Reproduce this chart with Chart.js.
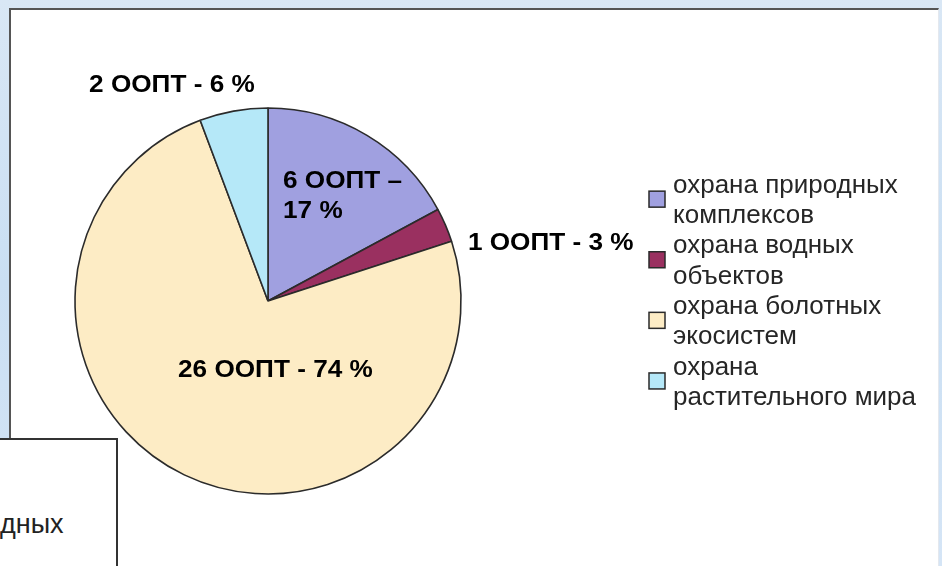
<!DOCTYPE html>
<html>
<head>
<meta charset="utf-8">
<script src="https://cdn.jsdelivr.net/npm/chart.js@4"></script>
<style>
  html, body { margin: 0; padding: 0; }
  body {
    width: 942px; height: 566px; overflow: hidden; position: relative;
    background: linear-gradient(180deg, #d9e7f5 0%, #cadff3 50%, #d5e5f6 100%);
    font-family: "Liberation Sans", Arial, sans-serif;
  }
  #panel {
    position: absolute; left: 9px; top: 8px; width: 930px; height: 600px;
    background: #ffffff; border-left: 2px solid #555; border-top: 2px solid #555;
    border-right: 1px solid #e4e8ee; box-sizing: border-box;
  }
  #box {
    position: absolute; left: -2px; top: 438px; width: 120px; height: 140px;
    background: #ffffff; border: 2px solid #333; box-sizing: border-box;
  }
  #boxText {
    position: absolute; left: 0px; top: 509px; font-size: 27px; color: #222;
    font-family: "Liberation Sans", Arial, sans-serif; line-height: 30px;
  }
  #chart { position: absolute; left: 0; top: 0; }
</style>
</head>
<body>
<div id="panel"></div>
<div id="box"></div>
<div id="boxText">дных</div>
<canvas id="chart" width="942" height="566"></canvas>
<script>
// ---- data ----
const categories = [
  "охрана природных комплексов",
  "охрана водных объектов",
  "охрана болотных экосистем",
  "охрана растительного мира"
];
const legendLines = [
  ["охрана природных", "комплексов"],
  ["охрана водных", "объектов"],
  ["охрана болотных", "экосистем"],
  ["охрана", "растительного мира"]
];
const counts = [6, 1, 26, 2];
const percents = [17, 3, 74, 6];
const unitLabel = "ООПТ";

// ---- styles / layout ----
const colors = ["#a0a0e0", "#9a3060", "#fdecc5", "#b5e8f8"];
// label anchors: left x / middle y relative to pie centre, in units of radius
const labelAnchors = [
  { dx: 0.078, dy: -0.622, wrap: true },
  { dx: 1.036, dy: -0.301 },
  { dx: -0.466, dy: 0.358 },
  { dx: -0.927, dy: -1.119 }
];

function labelFor(i) {
  if (labelAnchors[i].wrap) return [counts[i] + " " + unitLabel + " –", percents[i] + " %"];
  return [counts[i] + " " + unitLabel + " - " + percents[i] + " %"];
}

const sliceLabels = {
  id: "sliceLabels",
  afterDatasetsDraw(chart) {
    const ctx = chart.ctx;
    const meta = chart.getDatasetMeta(0);
    const arc0 = meta.data[0];
    const cx = arc0.x, cy = arc0.y, R = arc0.outerRadius;
    ctx.save();
    ctx.fillStyle = "#000";
    ctx.font = "bold 24px 'Liberation Sans', Arial, sans-serif";
    ctx.textBaseline = "middle";
    ctx.textAlign = "left";
    meta.data.forEach((arc, i) => {
      const a = labelAnchors[i];
      const lines = labelFor(i);
      const x = cx + a.dx * R, y = cy + a.dy * R;
      lines.forEach((ln, k) => {
        ctx.save();
        ctx.translate(x, y + k * 30);
        ctx.scale(1.09, 1);
        ctx.fillText(ln, 0, 0);
        ctx.restore();
      });
    });
    ctx.restore();
  }
};

const customLegend = {
  id: "customLegend",
  afterDraw(chart) {
    const ctx = chart.ctx;
    const opts = chart.options.plugins.customLegend;
    const x0 = opts.x, y0 = opts.y, lh = opts.lineHeight;
    ctx.save();
    ctx.font = "25px 'Liberation Sans', Arial, sans-serif";
    ctx.textBaseline = "middle";
    ctx.textAlign = "left";
    chart.data.labels.forEach((lab, i) => {
      const lines = legendLines[i];
      const top = y0 + i * 2 * lh;
      const midY = top + lh / 2 - 2;
      ctx.fillStyle = chart.data.datasets[0].backgroundColor[i];
      ctx.fillRect(x0, midY - 8, 16, 16);
      ctx.lineWidth = 1.5;
      ctx.strokeStyle = "#2a2a2a";
      ctx.strokeRect(x0, midY - 8, 16, 16);
      ctx.fillStyle = "#262626";
      lines.forEach((ln, k) => {
        ctx.save();
        ctx.translate(x0 + 24, top + k * lh);
        ctx.scale(1.04, 1);
        ctx.fillText(ln, 0, 0);
        ctx.restore();
      });
    });
    ctx.restore();
  }
};

new Chart(document.getElementById("chart"), {
  type: "pie",
  data: {
    labels: categories,
    datasets: [{
      data: counts,
      backgroundColor: colors,
      borderColor: "#2b2b2b",
      borderWidth: 1.6,
      hoverOffset: 0
    }]
  },
  options: {
    responsive: false,
    animation: false,
    devicePixelRatio: 1,
    radius: 193,
    rotation: 0,
    layout: { padding: { left: 70, right: 476, top: 103, bottom: 67 } },
    plugins: {
      legend: { display: false },
      tooltip: { enabled: false },
      customLegend: { x: 649, y: 186, lineHeight: 30.3 }
    },
    events: []
  },
  plugins: [sliceLabels, customLegend]
});
</script>
</body>
</html>
